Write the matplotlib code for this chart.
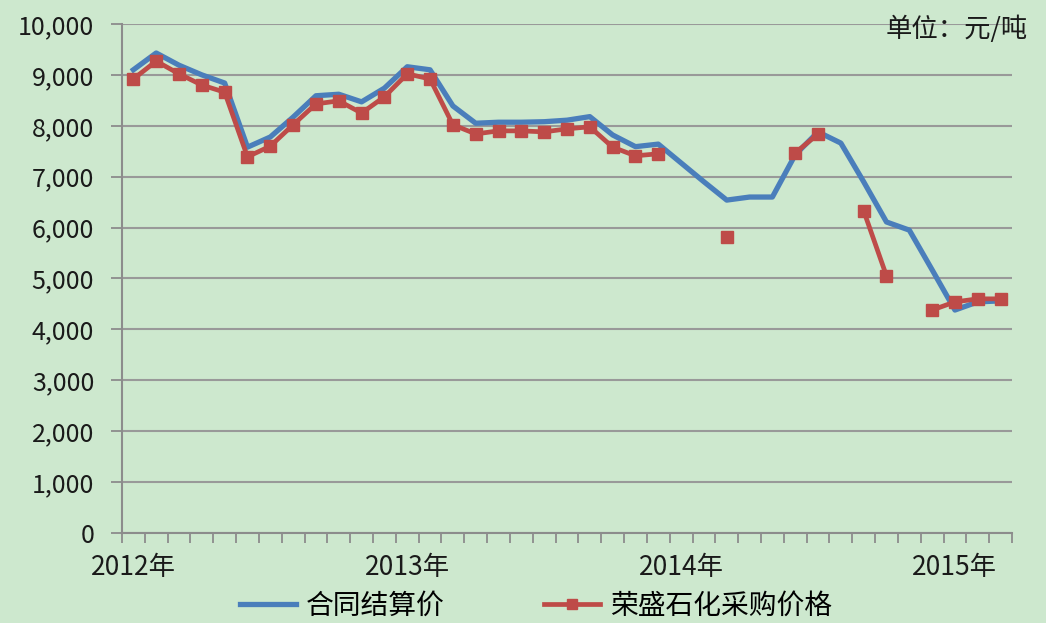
import numpy as np
import matplotlib.pyplot as plt
from matplotlib.ticker import FuncFormatter

plt.rcParams['font.family'] = ['Noto Sans CJK SC', 'DejaVu Sans']

# 2012-01 .. 2015-03, monthly
months = [f"{y}-{m:02d}" for y in range(2012, 2016) for m in range(1, 13)][:39]
year_labels = ["2012年", "2013年", "2014年", "2015年"]
year_pos = [0, 12, 24, 36]

contract = [9100, 9430, 9190, 9000, 8840, 7580, 7780, 8170, 8590, 8620,
            8470, 8740, 9160, 9100, 8390, 8050, 8070, 8070, 8080, 8110,
            8180, 7820, 7590, 7640, 7270, 6900, 6540, 6600, 6600, 7430,
            7880, 7660, 6900, 6110, 5950, 5170, 4380, 4540, 4560]
nan = np.nan
rongsheng = [8920, 9270, 9020, 8800, 8660, 7390, 7600, 8020, 8430, 8490,
             8250, 8570, 9020, 8920, 8020, 7840, 7900, 7900, 7880, 7940,
             7980, 7580, 7410, 7450, nan, nan, 5810, nan, nan, 7465,
             7840, nan, 6330, 5050, nan, 4380, 4540, 4600, 4600]

bg = "#CDE8CE"
blue = "#4A7EBB"
red = "#BE4B48"
grey = "#8C8C8C"
txt = "#1a1a1a"

fig = plt.figure(figsize=(10.46, 6.23), dpi=100, facecolor=bg)
ax = fig.add_axes([0.1166, 0.1445, 0.8509, 0.817])
ax.set_facecolor(bg)

x = np.arange(len(months))
ax.plot(x, contract, color=blue, lw=3.8, label="合同结算价", zorder=3)
ax.plot(x, rongsheng, color=red, lw=3.4, marker="s", ms=8.5,
        label="荣盛石化采购价格", zorder=4)

ax.set_xlim(-0.5, len(months) - 0.5)
ax.set_ylim(0, 10000)
ax.set_yticks(np.arange(0, 10001, 1000))
ax.yaxis.set_major_formatter(FuncFormatter(lambda v, p: f"{int(v):,}"))
ax.grid(axis="y", color="#999999", lw=1.5)
ax.set_axisbelow(True)

# tick marks at category boundaries, labels on minor ticks at year starts
ax.set_xticks(np.arange(-0.5, len(months), 1))
ax.set_xticklabels([])
ax.set_xticks(year_pos, minor=True)
ax.set_xticklabels(year_labels, minor=True)
ax.tick_params(axis="x", which="major", direction="out", length=7,
               width=1.3, color=grey)
ax.tick_params(axis="x", which="minor", length=0, pad=15, labelsize=19,
               labelcolor=txt)
ax.tick_params(axis="y", direction="out", length=8, width=1.3, color=grey,
               labelsize=18, labelcolor=txt, pad=12)

for s in ["top", "right"]:
    ax.spines[s].set_visible(False)
for s in ["left", "bottom"]:
    ax.spines[s].set_color(grey)
    ax.spines[s].set_linewidth(1.5)

fig.text(1028 / 1046, 1 - 29 / 623, "单位：元/吨", ha="right", va="center",
         fontsize=19, color=txt)

fig.legend(*ax.get_legend_handles_labels(), loc="center",
           bbox_to_anchor=(536 / 1046, 1 - 606 / 623), ncol=2,
           frameon=False, fontsize=20, handlelength=2.0, columnspacing=3.6,
           handletextpad=0.35, markerscale=0.9, borderpad=0)

fig.savefig("out.png", dpi=100, facecolor=bg)
